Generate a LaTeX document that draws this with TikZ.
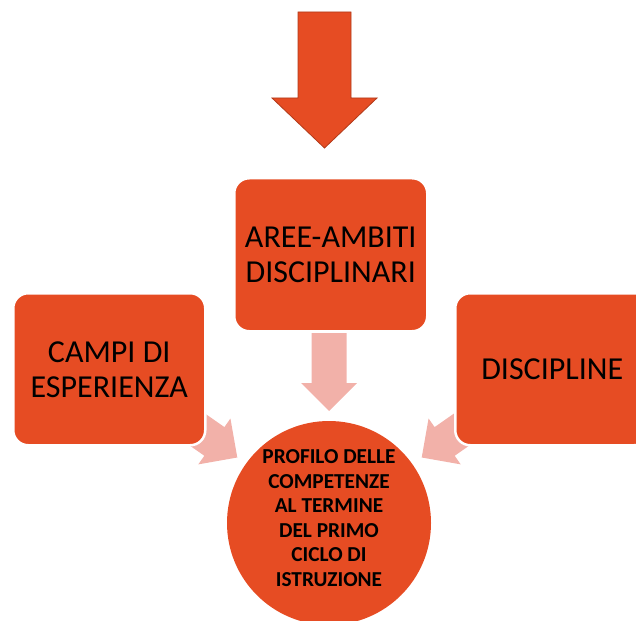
\documentclass[tikz,border=0pt]{standalone}
\usepackage{fontspec}
\setmainfont{Carlito}
\definecolor{orng}{RGB}{230,76,35}
\definecolor{orngdark}{RGB}{176,58,26}
\definecolor{pinkarr}{RGB}{242,177,169}
\begin{document}
\begin{tikzpicture}[x=1pt,y=-1pt,
  box/.style={draw=white, line width=2.5pt, fill=orng, rounded corners=15pt,
    inner sep=0pt, anchor=north west, align=center, text=black,
    font=\fontsize{32}{35}\selectfont},
  goal/.style={circle, fill=orng, minimum size=204pt, inner sep=0pt},
  goaltext/.style={align=center, text=black, inner sep=0pt,
    font=\fontsize{21.3}{24.5}\selectfont\bfseries},
  pinkarrow/.pic={\fill[pinkarr] (0,0) -- (-28,28) -- (-28,17.5) -- (-78,17.5)
    -- (-78,-17.5) -- (-28,-17.5) -- (-28,-28) -- cycle;}
]
\useasboundingbox (0,0) rectangle (636,620);
\begin{scope}
\clip (0,0) rectangle (636,620);
% big input arrow
\filldraw[fill=orng, draw=orngdark, line width=0.8pt, line join=miter]
  (298,12) -- (351,12) -- (351,98) -- (377,98) -- (324.5,148) -- (272,98) -- (298,98) -- cycle;
% light arrows (behind boxes)
\coordinate (tipdown) at (329,411);
\coordinate (tipleft) at (237.3,457.5);
\coordinate (tipright) at (421.7,457.5);
\pic[rotate=-90] at (tipdown) {pinkarrow};
\pic[rotate=-35] at (tipleft) {pinkarrow};
\pic[rotate=-145] at (tipright) {pinkarrow};
% boxes
\node[box, minimum width=193pt, minimum height=153pt] (aree) at (233,177)
  {AREE-AMBITI\\DISCIPLINARI};
\node[box, minimum width=192pt, minimum height=152pt] (campi) at (12,292)
  {CAMPI DI\\ESPERIENZA};
\node[box, minimum width=194pt, minimum height=152pt] (disc) at (454,292)
  {DISCIPLINE};
% goal circle
\node[goal] (profilo) at (329,523) {};
\node[goaltext] (profilotext) at (329,518)
  {PROFILO DELLE\\COMPETENZE\\AL TERMINE\\DEL PRIMO\\CICLO DI\\ISTRUZIONE};
\end{scope}
\end{tikzpicture}
\end{document}
